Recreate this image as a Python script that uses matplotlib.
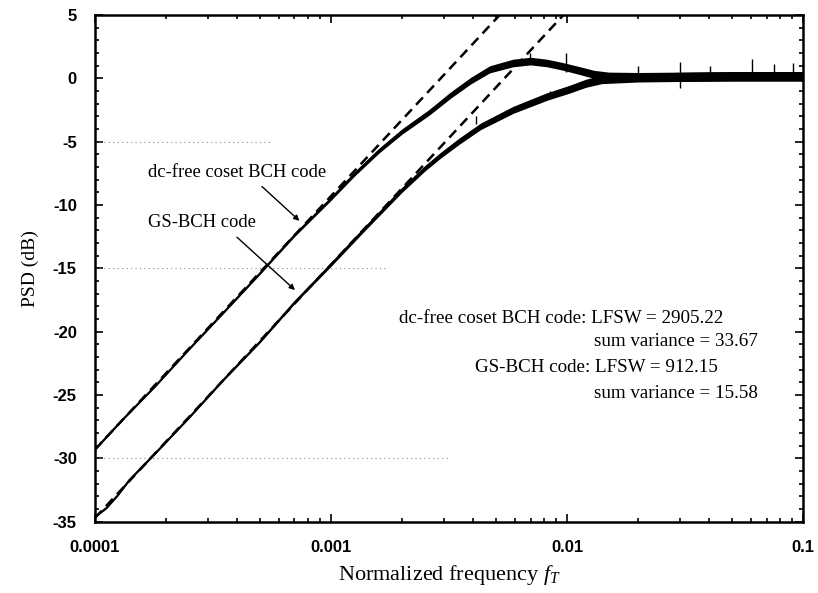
import numpy as np
import matplotlib
matplotlib.use("Agg")
import matplotlib.pyplot as plt
from matplotlib.ticker import FixedLocator, FixedFormatter, LogLocator, MultipleLocator, NullFormatter

plt.rcParams['mathtext.fontset'] = 'custom'
plt.rcParams['mathtext.rm'] = 'Liberation Serif'
plt.rcParams['mathtext.it'] = 'Liberation Serif:italic'
plt.rcParams['axes.unicode_minus'] = False

# dc-free coset BCH code (frequency, PSD dB, half-width of the noisy band)
dc_f = [1e-4, 1.3e-4, 1.8e-4, 2.5e-4, 3.5e-4, 5e-4, 7e-4, 1e-3, 1.25e-3, 1.6e-3,
        2.0e-3, 2.6e-3, 3.2e-3, 3.9e-3, 4.7e-3, 5.9e-3, 7.0e-3, 8.2e-3, 9.5e-3,
        1.13e-2, 1.3e-2, 1.5e-2, 2e-2, 3e-2, 5e-2, 0.1]
dc_psd = [-29.3, -27.0, -24.3, -21.4, -18.5, -15.4, -12.4, -9.5, -7.6, -5.7,
          -4.2, -2.7, -1.35, -0.2, 0.7, 1.2, 1.35, 1.2, 0.95,
          0.6, 0.3, 0.15, 0.1, 0.12, 0.15, 0.15]
dc_hw = [0.06, 0.06, 0.06, 0.06, 0.07, 0.08, 0.1, 0.14, 0.17, 0.19,
         0.21, 0.23, 0.25, 0.26, 0.28, 0.3, 0.3, 0.3, 0.3,
         0.31, 0.32, 0.33, 0.35, 0.36, 0.37, 0.37]

# GS-BCH code
gs_f = [1e-4, 1.12e-4, 1.25e-4, 1.4e-4, 1.8e-4, 2.5e-4, 3.5e-4, 5e-4, 7e-4, 1e-3,
        1.4e-3, 2.0e-3, 2.5e-3, 2.9e-3, 3.5e-3, 4.3e-3, 5.9e-3, 8.2e-3, 1.03e-2,
        1.2e-2, 1.4e-2, 2e-2, 3e-2, 5e-2, 0.1]
gs_psd = [-34.6, -33.9, -32.9, -31.7, -29.6, -26.8, -23.8, -20.8, -17.7, -14.7,
          -11.8, -8.8, -7.1, -6.1, -4.95, -3.8, -2.5, -1.45, -0.85,
          -0.4, -0.1, 0.05, 0.1, 0.15, 0.15]
gs_hw = [0.06, 0.06, 0.06, 0.06, 0.06, 0.06, 0.07, 0.08, 0.1, 0.14,
         0.17, 0.2, 0.22, 0.23, 0.25, 0.26, 0.28, 0.3, 0.31,
         0.32, 0.33, 0.35, 0.36, 0.37, 0.37]

# 20 dB/decade asymptotes
dash_f = [1e-4, 0.1]
dc_dash = [-29.3, 30.7]
gs_dash = [-34.7, 25.3]

# noise spikes (frequency, low dB, high dB)
spike_f = [4.13e-3, 6.97e-3, 8.45e-3, 9.9e-3, 1.99e-2, 3.01e-2, 3.01e-2, 4.03e-2, 6.06e-2, 7.5e-2, 9.03e-2]
spike_lo = [-3.6, 1.2, -1.5, 0.5, 0.2, 0.2, -0.8, 0.2, 0.2, 0.2, 0.2]
spike_hi = [-3.0, 2.0, -1.0, 2.0, 1.0, 1.3, 0.0, 1.0, 1.5, 1.1, 1.2]

# faint dotted grid remnants (level, end frequency)
grid_y = [-5, -15, -30]
grid_end = [5.6e-4, 1.73e-3, 3.19e-3]

fig = plt.figure(figsize=(8.18, 5.93), dpi=100)
ax = fig.add_axes([0.116, 0.12, 0.866, 0.855])

for y, fe in zip(grid_y, grid_end):
    ax.hlines(y, 1e-4, fe, colors='#888888', linestyles=(0, (1, 3)), lw=0.8)

for f, p, hw in [(dc_f, dc_psd, dc_hw), (gs_f, gs_psd, gs_hw)]:
    f = np.array(f); p = np.array(p); hw = np.array(hw)
    ax.fill_between(f, p - hw, p + hw, color='k', lw=0)
    ax.plot(f, p, color='k', lw=1.4)

ax.vlines(spike_f, spike_lo, spike_hi, colors='k', lw=1.0)

ax.plot(dash_f, dc_dash, color='k', lw=1.8, dashes=(4, 2.5))
ax.plot(dash_f, gs_dash, color='k', lw=1.8, dashes=(4, 2.5))

ax.set_xscale('log')
ax.set_xlim(1e-4, 0.1)
ax.set_ylim(-35, 5)

ax.xaxis.set_major_locator(FixedLocator([1e-4, 1e-3, 1e-2, 1e-1]))
ax.xaxis.set_major_formatter(FixedFormatter(['0.0001', '0.001', '0.01', '0.1']))
ax.xaxis.set_minor_locator(LogLocator(base=10, subs=np.arange(2, 10)))
ax.xaxis.set_minor_formatter(NullFormatter())
ax.yaxis.set_major_locator(MultipleLocator(5))
ax.yaxis.set_minor_locator(MultipleLocator(1))

ax.tick_params(which='both', direction='in', top=True, right=True, width=1.2)
ax.tick_params(which='major', length=6, pad=13)
ax.tick_params(which='minor', length=3)
for lab in ax.get_xticklabels() + ax.get_yticklabels():
    lab.set_fontfamily('Liberation Sans')
    lab.set_fontweight('bold')
    lab.set_fontsize(12)
for s in ax.spines.values():
    s.set_linewidth(1.8)

ax.set_xlabel('Normalized frequency $f_T$', family='Liberation Serif', fontsize=16, labelpad=6)
ax.set_ylabel('PSD (dB)', family='Liberation Serif', fontsize=14, labelpad=10)

tfont = dict(family='Liberation Serif', fontsize=13.4)
ax.text(4.0e-4, -7.47, 'dc-free coset BCH code', ha='center', va='center', **tfont)
ax.annotate('', xy=(7.5e-4, -11.4), xytext=(5.0e-4, -8.4),
            arrowprops=dict(arrowstyle='-|>', lw=1.0, color='k', mutation_scale=8))
ax.text(2.84e-4, -11.4, 'GS-BCH code', ha='center', va='center', **tfont)
ax.annotate('', xy=(7.18e-4, -16.86), xytext=(3.92e-4, -12.4),
            arrowprops=dict(arrowstyle='-|>', lw=1.0, color='k', mutation_scale=8))

bfont = dict(family='Liberation Serif', fontsize=13.7)
ax.text(0.429, 0.402, 'dc-free coset BCH code: LFSW = 2905.22', transform=ax.transAxes, ha='left', va='center', **bfont)
ax.text(0.704, 0.355, 'sum variance = 33.67', transform=ax.transAxes, ha='left', va='center', **bfont)
ax.text(0.537, 0.304, 'GS-BCH code: LFSW = 912.15', transform=ax.transAxes, ha='left', va='center', **bfont)
ax.text(0.704, 0.253, 'sum variance = 15.58', transform=ax.transAxes, ha='left', va='center', **bfont)

fig.savefig('out.png', dpi=100)
